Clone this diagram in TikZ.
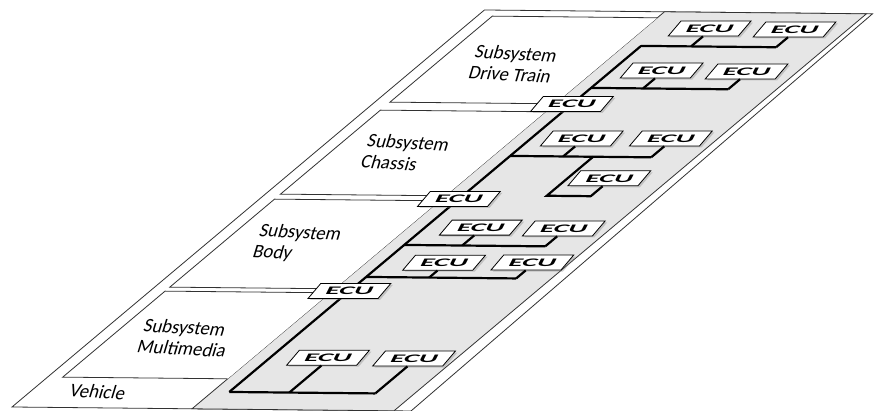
\documentclass[tikz,border=0pt]{standalone}
\usepackage{fontspec}
\setmainfont{Carlito}
\usetikzlibrary{shadows}

\definecolor{panel}{RGB}{230,230,230}
\definecolor{edge}{RGB}{50,50,50}

\tikzset{
  sheet/.style={draw=edge, line width=0.8pt, fill=white},
  bus/.style={black, line width=2.2pt},
  ecutext/.style={inner sep=0pt, font=\fontsize{11.5}{12}\selectfont\bfseries\itshape, xslant=0.2},
  ecu/.style={rectangle, draw=black, line width=0.8pt, fill=white, xslant=0.85,
    minimum width=70pt, minimum height=15pt, inner sep=0pt,
    drop shadow={shadow xshift=2pt, shadow yshift=-1.5pt, opacity=0.35},
    label={[ecutext]center:\scalebox{2.5}[1]{ECU}}},
  sublabel/.style={align=left, font=\fontsize{19}{21}\selectfont, xslant=0.25, rotate=-3},
}

\begin{document}
\begin{tikzpicture}
  \useasboundingbox (0,0) rectangle (876pt,411pt);
  \begin{scope}[x=1pt, y=1pt, cm={1,-0.01,1.19,1,(12pt,4pt)}]
  % Vehicle sheet
  \draw[sheet] (0,0) -- (0,397) -- (388,397) -- (399,0) -- cycle;
  % ECU panel
  \draw[draw=edge, line width=0.8pt, fill=panel] (180,0) -- (180,397) -- (382,397) -- (382,0) -- cycle;
  % Subsystems
  \foreach \lo/\hi in {30/116, 120/208, 213/297, 305/391}
    \draw[sheet] (180,\lo) -- (15,\lo) -- (15,\hi) -- (180,\hi);
  \node[sublabel] (lblDrive) at (92,344) {Subsystem\\Drive Train};
  \node[sublabel] (lblChassis) at (90,255) {Subsystem\\Chassis};
  \node[sublabel] (lblBody) at (90,164) {Subsystem\\Body};
  \node[sublabel] (lblMedia) at (90,70) {Subsystem\\Multimedia};
  \node[sublabel] (lblVehicle) at (67,16) {Vehicle};
  % Backbone
  \coordinate (busBot) at (197,17);
  \coordinate (busTop) at (197,363);
  \coordinate (dtLow) at (197,321);
  \coordinate (chBr) at (197,253);
  \coordinate (chDrop) at (280,253);
  \coordinate (chKnee) at (280,214);
  \coordinate (bdUp) at (197,164);
  \coordinate (bdLow) at (197,132);
  \draw[bus] (busBot) -- (busTop);
  % Gateways
  \foreach \n/\v in {gwBody/118, gwChassis/210, gwDrive/305}
    \node[ecu] (\n) at (197,\v) {};
  % ECUs
  \foreach \n/\u/\v/\b in {dt1/247/373/363, dt2/332/373/363, dt3/249/331/321, dt4/334/331/321,
      ch1/250/263/253, ch2/338/264/253, ch3/324/224/214,
      bd1/255/174/164, bd2/338/174/164, bd3/260/139/132, bd4/347/140/132,
      mm1/257/44/17, mm2/343/44/17} {
    \node[ecu, anchor=south] (\n) at (\u,\v) {};
    \coordinate (\n-j) at (\u,\b);
    \draw[bus] (\n-j) -- (\n.south);
  }
  % Branches
  \draw[bus] (busTop) -- (dt2-j);
  \draw[bus] (dtLow) -- (dt4-j);
  \draw[bus] (chBr) -- (ch2-j);
  \draw[bus] (chDrop) -- (chKnee) -- (ch3-j);
  \draw[bus] (bdUp) -- (bd2-j);
  \draw[bus] (bdLow) -- (bd4-j);
  \draw[bus] (busBot) -- (mm2-j);
  \end{scope}
\end{tikzpicture}
\end{document}
